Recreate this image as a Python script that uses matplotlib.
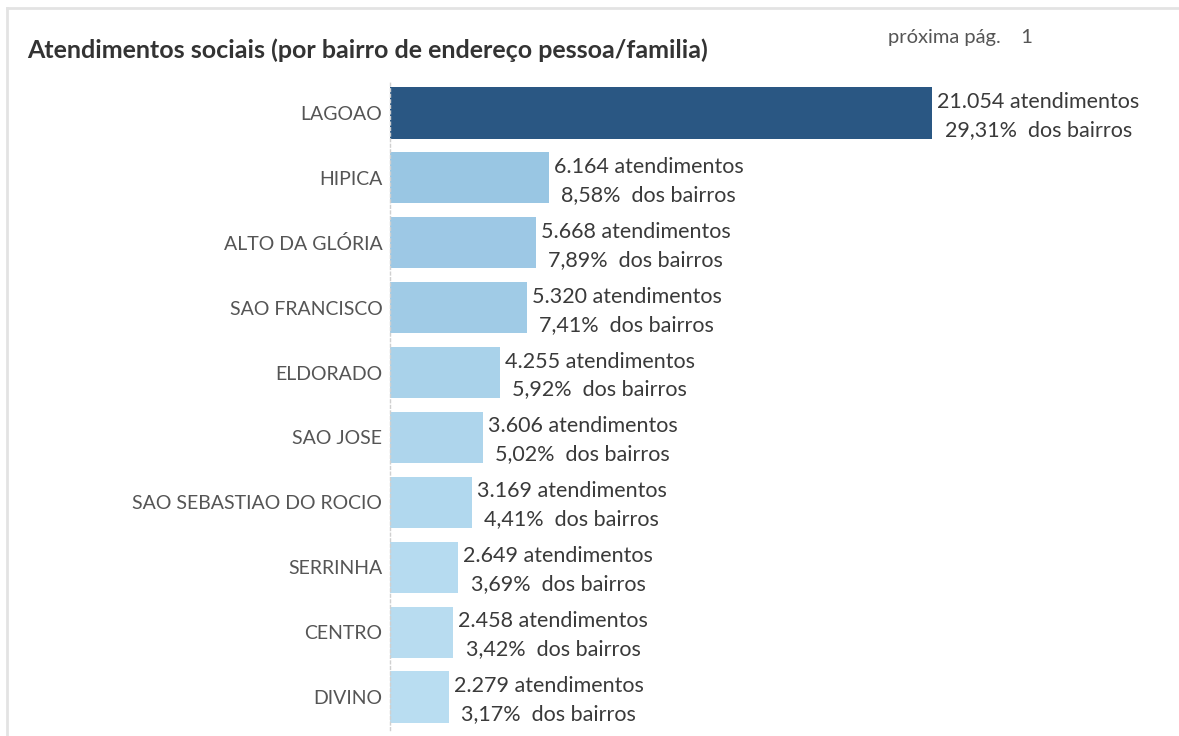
import matplotlib.pyplot as plt
from matplotlib.colors import LinearSegmentedColormap, Normalize
from matplotlib.lines import Line2D

plt.rcParams['font.family'] = ['Lato', 'DejaVu Sans']

# dados
bairros = ['LAGOAO', 'HIPICA', 'ALTO DA GLÓRIA', 'SAO FRANCISCO', 'ELDORADO',
           'SAO JOSE', 'SAO SEBASTIAO DO ROCIO', 'SERRINHA', 'CENTRO', 'DIVINO']
atendimentos = [21054, 6164, 5668, 5320, 4255, 3606, 3169, 2649, 2458, 2279]
percentuais = ['29,31%', '8,58%', '7,89%', '7,41%', '5,92%',
               '5,02%', '4,41%', '3,69%', '3,42%', '3,17%']
atend_labels = ['21.054', '6.164', '5.668', '5.320', '4.255',
                '3.606', '3.169', '2.649', '2.458', '2.279']

W, H = 1179, 736
fig = plt.figure(figsize=(W / 100, H / 100), dpi=100)

# moldura cinza (topo e esquerda)
fig.add_artist(Line2D([7 / W, 1], [1 - 8 / H, 1 - 8 / H], color='#e3e3e3', lw=2))
fig.add_artist(Line2D([7 / W, 7 / W], [0, 1 - 8 / H], color='#e3e3e3', lw=2))

ax = fig.add_axes([390 / W, 1 - 729.5 / H, (1175 - 390) / W, (729.5 - 80.5) / H])

cmap = LinearSegmentedColormap.from_list('tab_blue', [
    '#b9ddf1', '#a5cfe9', '#92c0df', '#80b0d5', '#6a9bc3',
    '#5485b2', '#437a9f', '#386694', '#2a5783'])
norm = Normalize(vmin=min(atendimentos), vmax=max(atendimentos))
cores = [cmap(norm(v)) for v in atendimentos]

y = list(range(len(bairros)))
ax.barh(y, atendimentos, height=0.79, color=cores)
ax.set_ylim(len(bairros) - 0.5, -0.5)
ax.set_xlim(0, 785 / (542 / 21054))

ax.set_yticks(y)
ax.set_yticklabels(bairros, fontsize=14, color='#555555')
ax.tick_params(axis='y', length=0, pad=5.5)
ax.set_xticks([])
for s in ['top', 'right', 'bottom']:
    ax.spines[s].set_visible(False)
ax.spines['left'].set_color('#d0d0d0')
ax.spines['left'].set_linestyle((0, (2, 2)))
ax.spines['left'].set_linewidth(1)

for i, v in enumerate(atendimentos):
    txt = f'{atend_labels[i]} atendimentos\n{percentuais[i]}  dos bairros'
    ax.annotate(txt, (v, i), xytext=(5, -3), textcoords='offset pixels',
                ha='left', va='center', multialignment='center',
                fontsize=15.5, color='#3a3a3a', linespacing=1.5)

fig.text(27 / W, 1 - 50 / H, 'Atendimentos sociais (por bairro de endereço pessoa/familia)',
         fontsize=18, fontweight='bold', color='#333333', ha='left', va='center')
fig.text(888 / W, 1 - 37 / H, 'próxima pág.    1', fontsize=14.5, color='#555555',
         ha='left', va='center')

fig.savefig('out.png', dpi=100)
